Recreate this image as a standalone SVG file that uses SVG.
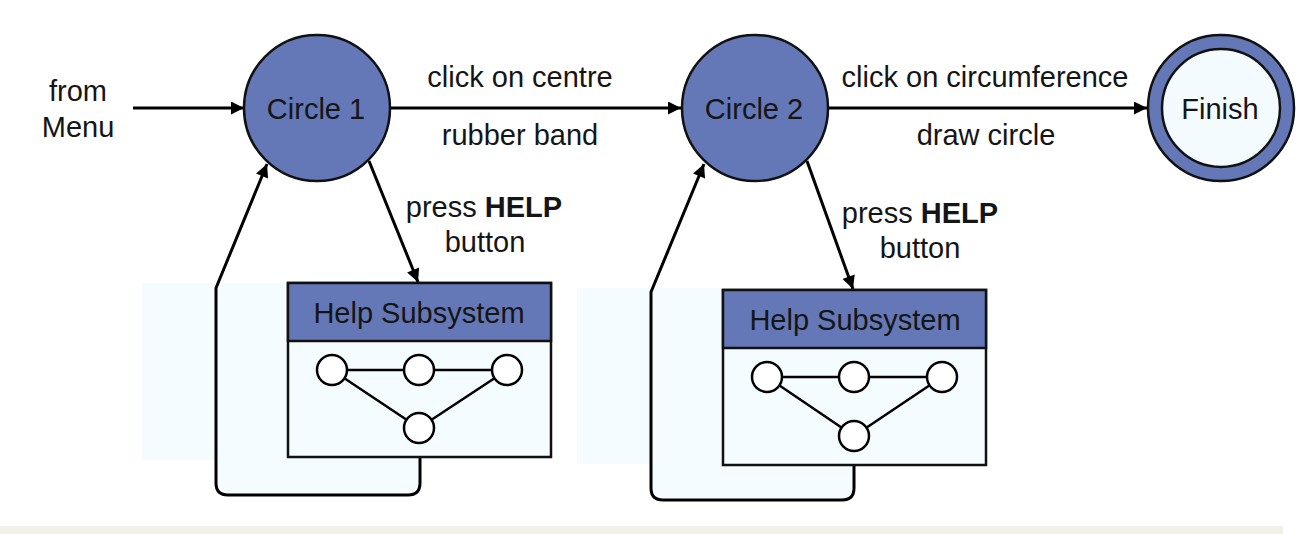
<svg xmlns="http://www.w3.org/2000/svg" width="1304" height="534" viewBox="0 0 1304 534">
<defs>
<style>
text{font-family:"Liberation Sans",Arial,sans-serif;font-size:29px;fill:#151515;text-anchor:middle}
.state{fill:#6478b8;stroke:#111;stroke-width:2.5}
.conn{fill:none;stroke:#000;stroke-width:3}
.box{fill:#f5fcff;stroke:#111;stroke-width:2.5}
.hdr{fill:#6478b8;stroke:#111;stroke-width:2.5}
.mini{fill:#fff;stroke:#000;stroke-width:2.5}
.miniline{stroke:#000;stroke-width:2.5;fill:none}
.bg{fill:#f5fcff}
</style>
<marker id="ah" viewBox="0 0 10 10" refX="10" refY="5" markerWidth="15" markerHeight="13" markerUnits="userSpaceOnUse" orient="auto">
<path d="M0,0 L10,5 L0,10 z" fill="#000"/>
</marker>
</defs>
<rect width="1304" height="534" fill="#fff"/>
<rect x="0" y="526" width="1283" height="8" fill="#f1f1e9"/>
<g id="backgrounds">
<rect class="bg" x="142" y="283" width="410" height="177"/>
<path class="bg" d="M216 283 L420 283 L420 483 Q420 495 408 495 L228 495 Q216 495 216 483 Z"/>
<rect class="bg" x="577" y="288" width="410" height="176"/>
<path class="bg" d="M651 289 L854 289 L854 488 Q854 500 842 500 L663 500 Q651 500 651 488 Z"/>
</g>
<g id="connectors">
<line class="conn" x1="133" y1="108" x2="244" y2="108" marker-end="url(#ah)"/>
<line class="conn" x1="390" y1="108" x2="681" y2="108" marker-end="url(#ah)"/>
<line class="conn" x1="828" y1="108" x2="1147" y2="108" marker-end="url(#ah)"/>
<line class="conn" x1="369" y1="161" x2="418" y2="282" marker-end="url(#ah)"/>
<line class="conn" x1="807" y1="161" x2="853" y2="289" marker-end="url(#ah)"/>
<path class="conn" d="M420 457 L420 483 Q420 495 408 495 L228 495 Q216 495 216 483 L216 288 L267 164" marker-end="url(#ah)"/>
<path class="conn" d="M854 465 L854 488 Q854 500 842 500 L663 500 Q651 500 651 488 L651 292 L704 164" marker-end="url(#ah)"/>
</g>
<g id="labels">
<text x="78" y="101">from</text>
<text x="78" y="137">Menu</text>
<text x="520" y="87">click on centre</text>
<text x="520" y="145">rubber band</text>
<text x="985" y="87">click on circumference</text>
<text x="986" y="145">draw circle</text>
<text x="484" y="217">press <tspan font-weight="bold">HELP</tspan></text>
<text x="485" y="252">button</text>
<text x="920" y="223">press <tspan font-weight="bold">HELP</tspan></text>
<text x="920" y="258">button</text>
</g>
<g id="circle1">
<circle class="state" cx="317" cy="108" r="73"/>
<text x="316" y="119">Circle 1</text>
</g>
<g id="circle2">
<circle class="state" cx="755" cy="108" r="73"/>
<text x="754" y="119">Circle 2</text>
</g>
<g id="finish">
<circle class="state" cx="1221" cy="108" r="73"/>
<circle cx="1221" cy="108" r="59" fill="#f4fbff" stroke="#111" stroke-width="2.5"/>
<text x="1220" y="119">Finish</text>
</g>
<g id="help1">
<rect class="box" x="288" y="283" width="263" height="174"/>
<rect class="hdr" x="288" y="283" width="263" height="58"/>
<text x="419" y="323">Help Subsystem</text>
<path class="miniline" d="M332 370 L507 370 M332 370 L419 428 L507 370"/>
<circle class="mini" cx="332" cy="370" r="15"/>
<circle class="mini" cx="419" cy="370" r="15"/>
<circle class="mini" cx="507" cy="370" r="15"/>
<circle class="mini" cx="419" cy="428" r="15"/>
</g>
<g id="help2">
<rect class="box" x="723" y="290" width="263" height="175"/>
<rect class="hdr" x="723" y="290" width="263" height="58"/>
<text x="855" y="330">Help Subsystem</text>
<path class="miniline" d="M767 377 L942 377 M767 377 L854 436 L942 377"/>
<circle class="mini" cx="767" cy="377" r="15"/>
<circle class="mini" cx="854" cy="377" r="15"/>
<circle class="mini" cx="942" cy="377" r="15"/>
<circle class="mini" cx="854" cy="436" r="15"/>
</g>
</svg>
